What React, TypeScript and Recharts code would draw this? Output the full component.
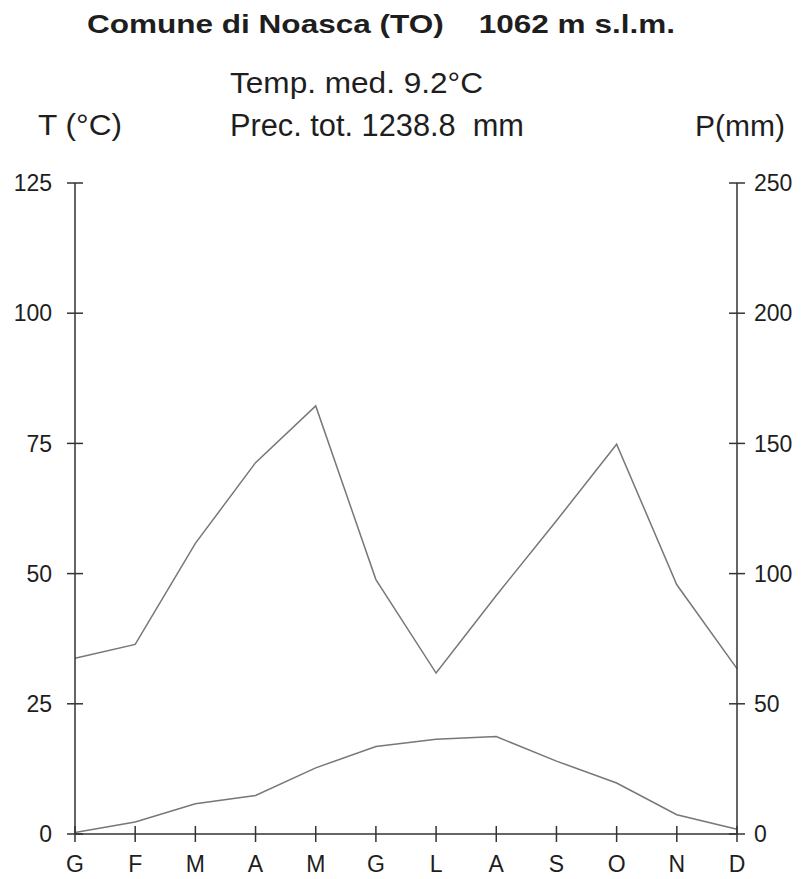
import React from "react";
import { LineChart, Line, XAxis, YAxis } from "recharts";

// ── Climate diagram — Noasca (TO), monthly means ──────────────────────────

const months = ["G", "F", "M", "A", "M", "G", "L", "A", "S", "O", "N", "D"];
const temperature = [0.3, 2.3, 5.8, 7.4, 12.7, 16.8, 18.2, 18.7, 14.0, 9.8, 3.7, 0.9];
const precipitation = [67.5, 72.8, 111.6, 142.6, 164.4, 97.7, 61.8, 91.6, 120.3, 149.7, 95.7, 63.5];

const tempTicks = [0, 25, 50, 75, 100, 125];
const precTicks = [0, 50, 100, 150, 200, 250];

const data = months.map((m, i) => ({
  month: m,
  t: temperature[i],
  p: precipitation[i],
}));

const FONT = "'Liberation Sans', Arial, sans-serif";
const INK = "#1e1e1e";
const AXIS = "#333";
const TICK = 8; // half length of the crossing tick marks

// ── Ticks that cross the axis line on both sides ───────────────────────────
function LeftTick({ x, y, payload }: any) {
  const ax = x + 15 + TICK; // tickMargin + tickSize
  return (
    <g>
      <line x1={ax - TICK} x2={ax + TICK} y1={y} y2={y} stroke={AXIS} strokeWidth={1.5} />
      <text x={x} y={y} dy="0.36em" textAnchor="end" fontSize={23} fill={INK} fontFamily={FONT}>
        {payload.value}
      </text>
    </g>
  );
}

function RightTick({ x, y, payload }: any) {
  const ax = x - 9 - TICK;
  return (
    <g>
      <line x1={ax - TICK} x2={ax + TICK} y1={y} y2={y} stroke={AXIS} strokeWidth={1.5} />
      <text x={x} y={y} dy="0.36em" textAnchor="start" fontSize={23} fill={INK} fontFamily={FONT}>
        {payload.value}
      </text>
    </g>
  );
}

function BottomTick({ x, y, payload }: any) {
  const ay = y - 13 - TICK;
  return (
    <g>
      <line x1={x} x2={x} y1={ay - TICK} y2={ay + TICK} stroke={AXIS} strokeWidth={1.5} />
      <text x={x} y={y} dy="0.72em" textAnchor="middle" fontSize={23} fill={INK} fontFamily={FONT}>
        {payload.value}
      </text>
    </g>
  );
}

export default function App() {
  return (
    <div style={{ position: "absolute", left: 0, top: 0, width: 806, height: 879, background: "#fff" }}>
      <LineChart
        width={806}
        height={879}
        data={data}
        margin={{ top: 183, right: 9, bottom: 5, left: 15 }}
      >
        <XAxis
          dataKey="month"
          interval={0}
          padding={{ left: 0, right: 0 }}
          height={40}
          tickSize={TICK}
          tickMargin={13}
          tickLine={false}
          axisLine={{ stroke: AXIS, strokeWidth: 1.5 }}
          tick={<BottomTick />}
        />
        <YAxis
          yAxisId="t"
          orientation="left"
          width={60}
          domain={[0, 125]}
          ticks={tempTicks}
          allowDataOverflow
          tickSize={TICK}
          tickMargin={15}
          tickLine={false}
          axisLine={{ stroke: AXIS, strokeWidth: 1.5 }}
          tick={<LeftTick />}
        />
        <YAxis
          yAxisId="p"
          orientation="right"
          width={60}
          domain={[0, 250]}
          ticks={precTicks}
          allowDataOverflow
          tickSize={TICK}
          tickMargin={9}
          tickLine={false}
          axisLine={{ stroke: AXIS, strokeWidth: 1.5 }}
          tick={<RightTick />}
        />
        <Line
          yAxisId="p"
          type="linear"
          dataKey="p"
          stroke="#777"
          strokeWidth={1.5}
          dot={false}
          isAnimationActive={false}
        />
        <Line
          yAxisId="t"
          type="linear"
          dataKey="t"
          stroke="#777"
          strokeWidth={1.5}
          dot={false}
          isAnimationActive={false}
        />
      </LineChart>

      {/* titles and annotations — stretched to the widths of the original */}
      <svg
        width={806}
        height={180}
        style={{ position: "absolute", left: 0, top: 0, pointerEvents: "none" }}
        fontFamily={FONT}
        fill={INK}
      >
        <text
          x={87}
          y={24}
          dy="0.36em"
          fontSize={25}
          fontWeight="bold"
          xmlSpace="preserve"
          textLength={588}
          lengthAdjust="spacingAndGlyphs"
        >
          {"Comune di Noasca (TO)    1062 m s.l.m."}
        </text>
        <text x={230} y={82.5} dy="0.36em" fontSize={30} textLength={253} lengthAdjust="spacingAndGlyphs">
          Temp. med. 9.2°C
        </text>
        <text
          x={230}
          y={124.5}
          dy="0.36em"
          fontSize={31}
          xmlSpace="preserve"
          textLength={294}
          lengthAdjust="spacingAndGlyphs"
        >
          {"Prec. tot. 1238.8  mm"}
        </text>
        <text x={38} y={124} dy="0.36em" fontSize={30} textLength={84} lengthAdjust="spacingAndGlyphs">
          T (°C)
        </text>
        <text x={695} y={125.5} dy="0.36em" fontSize={30} textLength={90} lengthAdjust="spacingAndGlyphs">
          P(mm)
        </text>
      </svg>
    </div>
  );
}
